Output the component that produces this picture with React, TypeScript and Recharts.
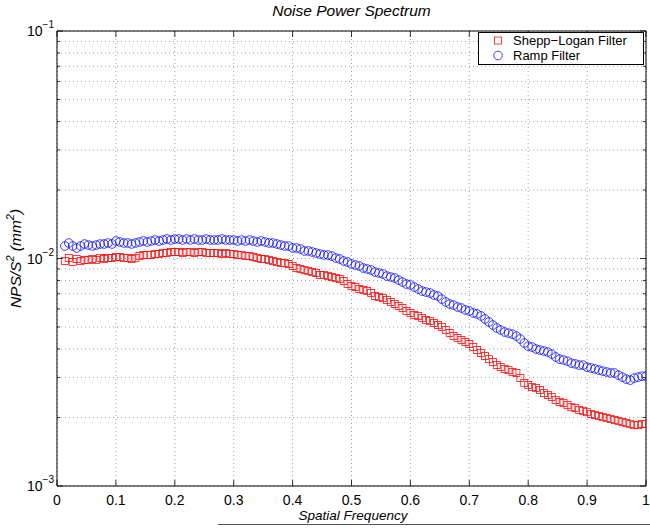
import React from 'react';
import { ScatterChart, Scatter, XAxis, YAxis, CartesianGrid, ReferenceArea } from 'recharts';

const titleText = 'Noise Power Spectrum';
const xLabelText = 'Spatial Frequency';
const seriesNames = ['Shepp\u2212Logan Filter', 'Ramp Filter'];

const xTicks = [0, 0.1, 0.2, 0.3, 0.4, 0.5, 0.6, 0.7, 0.8, 0.9, 1];
const xTickLabels = ['0', '0.1', '0.2', '0.3', '0.4', '0.5', '0.6', '0.7', '0.8', '0.9', '1'];
const yMajorTicks = [0.001, 0.01, 0.1];
const yMajorExponents = ['\u22123', '\u22122', '\u22121'];
const yMinorTicks = [
  0.002, 0.003, 0.004, 0.005, 0.006, 0.007, 0.008, 0.009,
  0.02, 0.03, 0.04, 0.05, 0.06, 0.07, 0.08, 0.09,
];

// frequency bins: bin index / binCount, starting at firstBin
const firstBin = 2;
const binCount = 150;

const sheppLogan = [
  0.00975, 0.01005, 0.00965, 0.00995, 0.00975, 0.00985, 0.00985, 0.00995, 0.00985, 0.01005,
  0.00995, 0.01005, 0.01005, 0.01015, 0.01015, 0.01005, 0.01005, 0.00995, 0.01005, 0.01025,
  0.01036, 0.01036, 0.01036, 0.01046, 0.01046, 0.01057, 0.01057, 0.01068, 0.01068, 0.01068,
  0.01057, 0.01068, 0.01068, 0.01057, 0.01068, 0.01068, 0.01057, 0.01057, 0.01057, 0.01057,
  0.01046, 0.01057, 0.01046, 0.01046, 0.01036, 0.01036, 0.01025, 0.01025, 0.01015, 0.01005,
  0.00995, 0.00995, 0.00985, 0.00975, 0.00965, 0.00955, 0.00955, 0.00946, 0.00927, 0.00908,
  0.00899, 0.00890, 0.00881, 0.00872, 0.00863, 0.00846, 0.00846, 0.00837, 0.00829, 0.00821,
  0.00812, 0.00796, 0.00772, 0.00757, 0.00749, 0.00734, 0.00727, 0.00719, 0.00705, 0.00684,
  0.00677, 0.00670, 0.00657, 0.00644, 0.00631, 0.00618, 0.00606, 0.00588, 0.00576, 0.00564,
  0.00559, 0.00547, 0.00536, 0.00531, 0.00520, 0.00510, 0.00500, 0.00485, 0.00470, 0.00456,
  0.00447, 0.00438, 0.00429, 0.00421, 0.00408, 0.00396, 0.00384, 0.00373, 0.00361, 0.00351,
  0.00340, 0.00333, 0.00327, 0.00323, 0.00317, 0.00314, 0.00298, 0.00284, 0.00278, 0.00272,
  0.00270, 0.00264, 0.00256, 0.00251, 0.00246, 0.00239, 0.00234, 0.00232, 0.00227, 0.00222,
  0.00220, 0.00216, 0.00214, 0.00211, 0.00207, 0.00205, 0.00203, 0.00201, 0.00199, 0.00197,
  0.00195, 0.00193, 0.00191, 0.00189, 0.00187, 0.00185, 0.00185, 0.00187, 0.00187,
];

const ramp = [
  0.01135, 0.01170, 0.01135, 0.01112, 0.01135, 0.01158, 0.01146, 0.01135, 0.01146, 0.01158,
  0.01158, 0.01170, 0.01158, 0.01194, 0.01182, 0.01170, 0.01170, 0.01158, 0.01170, 0.01182,
  0.01194, 0.01182, 0.01194, 0.01206, 0.01194, 0.01206, 0.01218, 0.01206, 0.01218, 0.01218,
  0.01206, 0.01218, 0.01206, 0.01218, 0.01206, 0.01206, 0.01218, 0.01206, 0.01206, 0.01206,
  0.01218, 0.01206, 0.01206, 0.01206, 0.01194, 0.01206, 0.01194, 0.01206, 0.01194, 0.01182,
  0.01194, 0.01182, 0.01170, 0.01170, 0.01158, 0.01146, 0.01135, 0.01135, 0.01112, 0.01112,
  0.01101, 0.01079, 0.01079, 0.01068, 0.01057, 0.01046, 0.01036, 0.01036, 0.01025, 0.01005,
  0.00995, 0.00975, 0.00965, 0.00946, 0.00936, 0.00927, 0.00908, 0.00899, 0.00890, 0.00872,
  0.00863, 0.00855, 0.00837, 0.00829, 0.00821, 0.00804, 0.00788, 0.00772, 0.00765, 0.00749,
  0.00734, 0.00719, 0.00712, 0.00705, 0.00691, 0.00684, 0.00663, 0.00644, 0.00631, 0.00624,
  0.00612, 0.00606, 0.00594, 0.00588, 0.00576, 0.00570, 0.00559, 0.00542, 0.00526, 0.00510,
  0.00495, 0.00485, 0.00475, 0.00470, 0.00465, 0.00456, 0.00443, 0.00425, 0.00412, 0.00408,
  0.00400, 0.00396, 0.00392, 0.00388, 0.00380, 0.00369, 0.00361, 0.00358, 0.00354, 0.00347,
  0.00344, 0.00340, 0.00340, 0.00333, 0.00330, 0.00327, 0.00323, 0.00320, 0.00317, 0.00314,
  0.00314, 0.00307, 0.00301, 0.00295, 0.00292, 0.00298, 0.00301, 0.00304, 0.00304,
];

const sheppData = sheppLogan.map((v, i) => ({ x: (i + firstBin) / binCount, y: v }));
const rampData = ramp.map((v, i) => ({ x: (i + firstBin) / binCount, y: v }));

const W = 650;
const H = 529;
const PL = 57;
const PR = 646;
const PT = 31;
const PB = 486;
const FONT = '"Liberation Sans", Arial, Helvetica, sans-serif';
const RED = '#ff0000';
const BLUE = '#0000ff';

const XTick = (props: any) => {
  const { x, payload } = props;
  const idx = xTicks.indexOf(payload.value);
  return (
    <g>
      <line x1={x} x2={x} y1={PB} y2={PB - 6} stroke="#000" strokeWidth={0.8} />
      <line x1={x} x2={x} y1={PT} y2={PT + 6} stroke="#000" strokeWidth={0.8} />
      <text x={x} y={PB + 19} textAnchor="middle" fontSize={14} fontFamily={FONT} fill="#000">
        {idx >= 0 ? xTickLabels[idx] : ''}
      </text>
    </g>
  );
};

const YTick = (props: any) => {
  const { y, payload } = props;
  const mi = yMajorTicks.indexOf(payload.value);
  const len = mi >= 0 ? 6 : 3;
  return (
    <g>
      <line x1={PL} x2={PL + len} y1={y} y2={y} stroke="#000" strokeWidth={0.8} />
      <line x1={PR} x2={PR - len} y1={y} y2={y} stroke="#000" strokeWidth={0.8} />
      {mi >= 0 && (
        <text x={PL - 3} y={y + 5} textAnchor="end" fontSize={14} fontFamily={FONT} fill="#000">
          10
          <tspan dy={-8} fontSize={10}>{yMajorExponents[mi]}</tspan>
        </text>
      )}
    </g>
  );
};

const SquareShape = (props: any) => {
  const { cx, cy } = props;
  if (cx == null || cy == null) return null;
  return <rect x={cx - 3.5} y={cy - 3.5} width={7} height={7} fill="none" stroke={RED} strokeWidth={0.75} />;
};

const CircleShape = (props: any) => {
  const { cx, cy } = props;
  if (cx == null || cy == null) return null;
  return <circle cx={cx} cy={cy} r={4.3} fill="none" stroke={BLUE} strokeWidth={0.75} />;
};

export default function App() {
  return (
    <div style={{ position: 'absolute', left: 0, top: 0, width: W, height: H, background: '#fff' }}>
      <ScatterChart width={W} height={H} margin={{ top: PT, right: W - PR, bottom: 0, left: 0 }}>
        <CartesianGrid stroke="#8c8c8c" strokeDasharray="1 3" strokeWidth={0.8} />
        <XAxis
          type="number"
          dataKey="x"
          domain={[0, 1]}
          ticks={xTicks}
          interval={0}
          allowDataOverflow
          axisLine={false}
          tickLine={false}
          tickSize={0}
          tickMargin={0}
          height={H - PB}
          tick={<XTick />}
        />
        <YAxis
          type="number"
          dataKey="y"
          scale="log"
          domain={[0.001, 0.1]}
          ticks={[...yMajorTicks, ...yMinorTicks].sort((a, b) => a - b)}
          interval={0}
          allowDataOverflow
          axisLine={false}
          tickLine={false}
          tickSize={0}
          tickMargin={0}
          width={PL}
          tick={<YTick />}
        />
        <ReferenceArea x1={0} x2={1} y1={0.001} y2={0.1} fill="none" stroke="#000" strokeWidth={1} ifOverflow="visible" />
        <Scatter name={seriesNames[0]} data={sheppData} shape={<SquareShape />} isAnimationActive={false} />
        <Scatter name={seriesNames[1]} data={rampData} shape={<CircleShape />} isAnimationActive={false} />
      </ScatterChart>

      <svg width={W} height={H} style={{ position: 'absolute', left: 0, top: 0, pointerEvents: 'none' }}>
        <text x={(PL + PR) / 2} y={16} textAnchor="middle" fontSize={15.5} fontStyle="italic" fontFamily={FONT} fill="#000">
          {titleText}
        </text>
        <text x={353} y={520} textAnchor="middle" fontSize={13.5} fontStyle="italic" fontFamily={FONT} fill="#000">
          {xLabelText}
        </text>
        <text
          transform={`translate(21, ${(PT + PB) / 2}) rotate(-90)`}
          textAnchor="middle"
          fontSize={15.5}
          fontStyle="italic"
          fontFamily={FONT}
          fill="#000"
        >
          NPS/S<tspan dy={-7} fontSize={11}>2</tspan>
          <tspan dy={7}> (mm</tspan>
          <tspan dy={-7} fontSize={11}>2</tspan>
          <tspan dy={7}>)</tspan>
        </text>
        <line x1={218} x2={650} y1={524.5} y2={524.5} stroke="#555" strokeWidth={1} />
      </svg>

      <div
        style={{
          position: 'absolute',
          left: 478,
          top: 32,
          width: 164,
          height: 31,
          border: '1px solid #000',
          background: '#fff',
          fontFamily: FONT,
          fontSize: 13,
          color: '#000',
          boxSizing: 'content-box',
        }}
      >
        <div style={{ position: 'absolute', left: 0, top: 0, height: 15, display: 'flex', alignItems: 'center' }}>
          <svg width={34} height={15} style={{ flex: 'none' }}>
            <rect x={15.5} y={4} width={7} height={7} fill="none" stroke={RED} strokeWidth={0.75} />
          </svg>
          <span style={{ lineHeight: '15px', whiteSpace: 'nowrap' }}>{seriesNames[0]}</span>
        </div>
        <div style={{ position: 'absolute', left: 0, top: 15, height: 15, display: 'flex', alignItems: 'center' }}>
          <svg width={34} height={15} style={{ flex: 'none' }}>
            <circle cx={19} cy={7.5} r={4.3} fill="none" stroke={BLUE} strokeWidth={0.75} />
          </svg>
          <span style={{ lineHeight: '15px', whiteSpace: 'nowrap' }}>{seriesNames[1]}</span>
        </div>
      </div>
    </div>
  );
}
